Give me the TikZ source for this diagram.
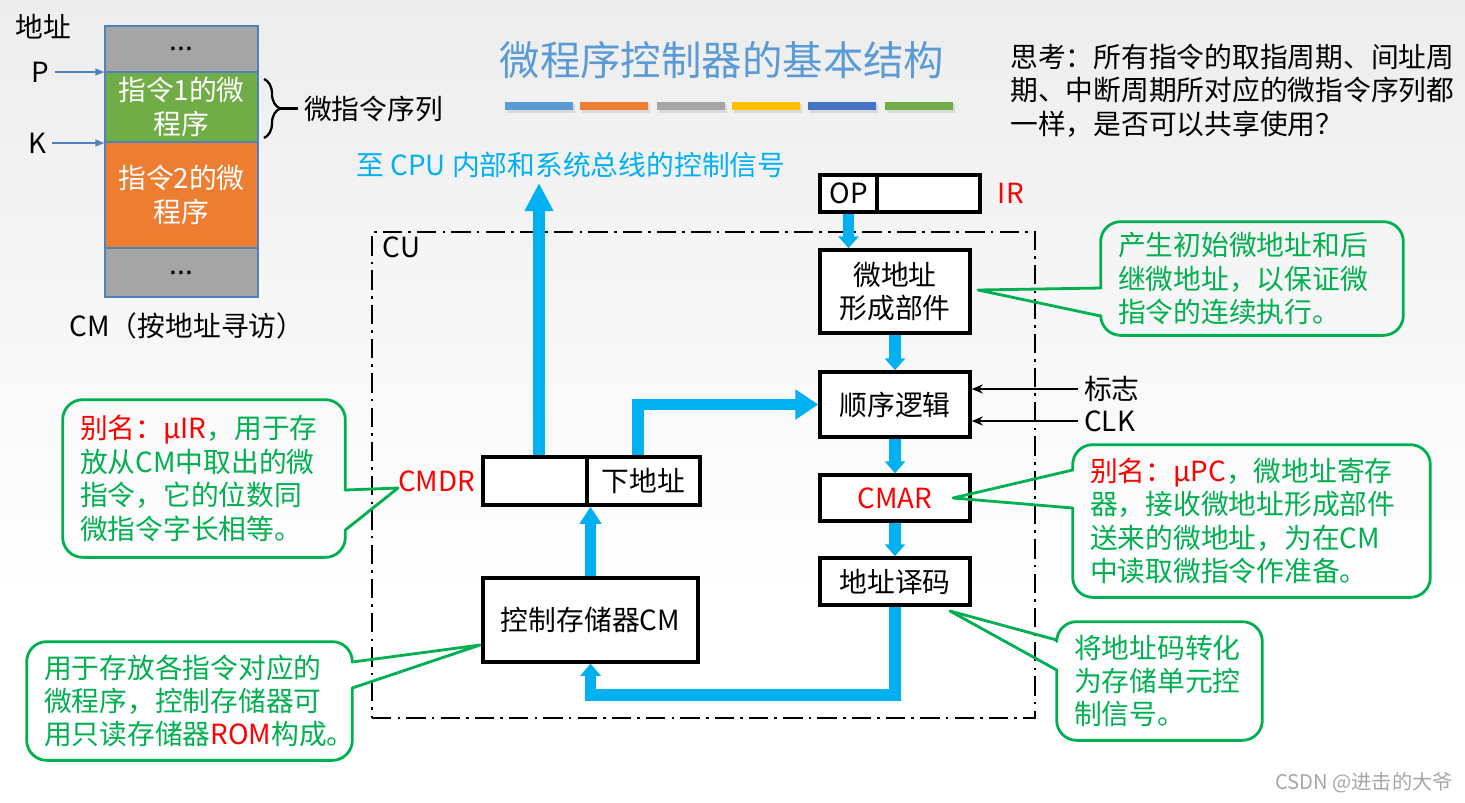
\documentclass[tikz,border=0pt]{standalone}
\usepackage{fontspec}
\setmainfont{Noto Sans CJK SC}
\usetikzlibrary{arrows.meta,positioning,calc,decorations.pathreplacing}

\definecolor{titleblue}{HTML}{5B9BD5}
\definecolor{busblue}{HTML}{00B0F0}
\definecolor{cogreen}{HTML}{00B050}
\definecolor{cored}{HTML}{FF0000}
\definecolor{cmgray}{HTML}{A5A5A5}
\definecolor{cmgreen}{HTML}{70AD47}
\definecolor{cmorange}{HTML}{ED7D31}
\definecolor{cmyellow}{HTML}{FFC000}
\definecolor{cmblue}{HTML}{4472C4}
\definecolor{cmline}{HTML}{4F81BD}

\tikzset{
    every node/.style={font=\fontsize{15.8pt}{19pt}\selectfont},
    cmcell/.style={draw=cmline, line width=0.8pt, minimum width=3.06cm, align=center, inner sep=0pt},
    blk/.style={draw, fill=white, line width=2pt, minimum width=3cm, align=center, inner sep=0pt},
    cubox/.style={draw, line width=1.5pt, dash pattern=on 11pt off 3.5pt on 1.5pt off 3.5pt},
    bus/.style={draw=busblue, line width=6.5pt, -{Triangle[width=0.4cm,length=0.24cm]}},
    ptr/.style={draw=cmline, line width=0.8pt, -{Triangle[width=0.14cm,length=0.18cm]}},
    sig/.style={line width=1.4pt, -{Stealth[length=0.22cm,width=0.18cm]}},
    cotext/.style={align=left, inner xsep=0.34cm, inner ysep=0pt, text=cogreen},
    coline/.style={draw=cogreen, line width=1.6pt, line cap=round, line join=round}
}

\begin{document}
\begin{tikzpicture}[x=0.02cm, y=-0.02cm]
    \useasboundingbox (0,0) rectangle (1465,802);
    \shade[top color=black!7, bottom color=white] (0,0) rectangle (1465,600);

    % control memory, addressed by location
    \node (addr) at (43,27) {地址};
    \node[cmcell, fill=cmgray, minimum height=0.92cm] (cmtop) at (181.5,49) {...};
    \node[cmcell, fill=cmgreen, minimum height=1.4cm, text=white] (prog1) at (181.5,107) {指令1的微\\程序};
    \node[cmcell, fill=cmorange, minimum height=2.12cm, text=white] (prog2) at (181.5,195) {指令2的微\\程序};
    \node[cmcell, fill=cmgray, minimum height=0.98cm] (cmbottom) at (181.5,272.5) {...};
    \node (p) at (40,72) {P};
    \node (k) at (37,143) {K};
    \draw[ptr] (p) -- (p -| prog1.west);
    \draw[ptr] (k) -- (k -| prog2.west);
    \node (cmname) at (187,326) {CM（按地址寻访）};

    \draw[decorate, decoration={brace, amplitude=0.32cm}, line width=1.3pt] (264,79) -- (264,138);
    \coordinate (bracetip) at (280,108.5);
    \node[anchor=west] (microseq) at (298,108.5) {微指令序列};
    \draw[line width=1.3pt] (bracetip) -- (microseq.west);

    % title
    \node[font=\fontsize{23pt}{27pt}\selectfont, text=titleblue] (title) at (722,60) {微程序控制器的基本结构};
    \foreach \x/\c in {505/titleblue, 580/cmorange, 657/cmgray, 732/cmyellow, 808/cmblue, 885/cmgreen} {
        \fill[black!15] (\x+2,104) rectangle (\x+70,113);
        \fill[\c] (\x,102) rectangle (\x+68,110);
    }

    \node[anchor=west, align=left, inner sep=0pt] (think) at (1010,90.5) {思考：所有指令的取指周期、间址周\\期、中断周期所对应的微指令序列都\\一样，是否可以共享使用？};

    % control unit
    \node[cubox, minimum width=13.26cm, minimum height=9.72cm] (cu) at (703.5,475) {};
    \node[anchor=north west, xshift=0.12cm] (culabel) at (cu.north west) {CU};

    \node[blk, minimum width=1.14cm, minimum height=0.74cm] (op) at (848.5,193.5) {OP};
    \node[blk, minimum width=2.06cm, minimum height=0.74cm] (irrest) at (928.5,193.5) {};
    \node[right=0.2cm of irrest, text=cored] (irlabel) {IR};

    \node[blk, minimum height=1.66cm] (uaddr) at (895,291.5) {微地址\\形成部件};
    \node[blk, minimum height=1.3cm] (seq) at (895,404.5) {顺序逻辑};
    \node[blk, minimum height=0.92cm, text=cored] (cmar) at (895,498) {CMAR};
    \node[blk, minimum height=0.94cm] (decode) at (895,581.5) {地址译码};

    \node[blk, minimum width=2.08cm, minimum height=0.96cm] (cmdrL) at (535,481) {};
    \node[blk, minimum width=2.26cm, minimum height=0.96cm] (cmdrR) at (643.5,481) {下地址};
    \node[left=0pt of cmdrL, text=cored] (cmdrlabel) {CMDR};
    \node[blk, minimum width=4.3cm, minimum height=1.68cm] (cm) at (590.5,620) {控制存储器CM};

    \node[anchor=west] (flag) at (1078,389) {标志};
    \node[anchor=west] (clk) at (1078,421) {CLK};
    \draw[sig] (flag.west) -- (flag.west -| seq.east);
    \draw[sig] (clk.west) -- (clk.west -| seq.east);

    \node[text=busblue] (ctrlsig) at (571,165) {至 CPU 内部和系统总线的控制信号};

    % buses
    \coordinate (sigtop) at (539,183);
    \draw[bus, -{Triangle[width=0.54cm,length=0.56cm]}] (sigtop |- cmdrL.north) -- (sigtop);
    \draw[bus] (op.south) -- (op.south |- uaddr.north);
    \draw[bus] (uaddr.south) -- (seq.north);
    \draw[bus] (seq.south) -- (cmar.north);
    \draw[bus] (cmar.south) -- (decode.north);
    \draw[bus] (decode.south) -- (decode.south |- 0,695) -| (cm.south);
    \draw[bus, -{Triangle[width=0.42cm,length=0.34cm]}] (cm.north) -- (cm.north |- cmdrR.south);
    \draw[bus, -{Triangle[width=0.58cm,length=0.46cm]}] ([xshift=-0.11cm]cmdrR.north) |- (seq.west);

    % callouts
    \node[cotext, minimum height=2.26cm, text width=5.36cm] (c1) at (1252,278.5) {产生初始微地址和后\\继微地址，以保证微\\指令的连续执行。};
    \coordinate (t1) at (978,290);
    \draw[coline, rounded corners=0.4cm] (c1.west |- 0,288) -- (c1.north west) -- (c1.north east) -- (c1.south east) -- (c1.south west) -- (c1.west |- 0,316);
    \draw[coline] (c1.west |- 0,288) -- (t1) -- (c1.west |- 0,316);

    \node[cotext, minimum height=3.14cm, text width=4.96cm] (c2) at (204,478.5) {{\color{cored}别名：μIR}，用于存\\放从CM中取出的微\\指令，它的位数同\\微指令字长相等。};
    \coordinate (t2) at (398,488);
    \draw[coline, rounded corners=0.4cm] (c2.east |- 0,490) -- (c2.north east) -- (c2.north west) -- (c2.south west) -- (c2.south east) -- (c2.east |- 0,530);
    \draw[coline] (c2.east |- 0,490) -- (t2) -- (c2.east |- 0,530);

    \node[cotext, minimum height=2.36cm, text width=5.82cm] (c3) at (189.5,701) {用于存放各指令对应的\\微程序，控制存储器可\\用只读存储器{\color{cored}ROM}构成。};
    \coordinate (t3) at (480,645);
    \draw[coline, rounded corners=0.4cm] (c3.east |- 0,662) -- (c3.north east) -- (c3.north west) -- (c3.south west) -- (c3.south east) -- (c3.east |- 0,688);
    \draw[coline] (c3.east |- 0,662) -- (t3) -- (c3.east |- 0,688);

    \node[cotext, minimum height=3.04cm, text width=6.46cm] (c4) at (1251.5,521) {{\color{cored}别名：μPC}，微地址寄存\\器，接收微地址形成部件\\送来的微地址，为在CM\\中读取微指令作准备。};
    \coordinate (t4) at (953,498);
    \draw[coline, rounded corners=0.4cm] (c4.west |- 0,470) -- (c4.north west) -- (c4.north east) -- (c4.south east) -- (c4.south west) -- (c4.west |- 0,508);
    \draw[coline] (c4.west |- 0,470) -- (t4) -- (c4.west |- 0,508);

    \node[cotext, minimum height=2.36cm, text width=3.42cm] (c5) at (1159.5,681) {将地址码转化\\为存储单元控\\制信号。};
    \coordinate (t5) at (950,611);
    \draw[coline, rounded corners=0.4cm] (c5.west |- 0,640) -- (c5.north west) -- (c5.north east) -- (c5.south east) -- (c5.south west) -- (c5.west |- 0,670);
    \draw[coline] (c5.west |- 0,640) -- (t5) -- (c5.west |- 0,670);

    \node[text=black!35, font=\fontsize{11.5pt}{14pt}\selectfont] (csdn) at (1364,783) {CSDN @进击的大爷};
\end{tikzpicture}
\end{document}
